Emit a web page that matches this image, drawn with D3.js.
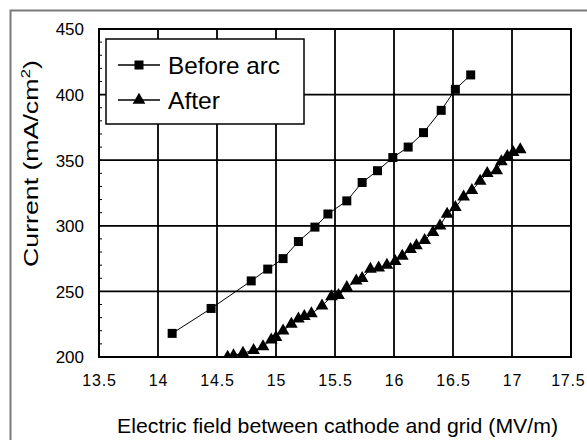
<!DOCTYPE html>
<html>
<head>
<meta charset="utf-8">
<script src="https://cdn.jsdelivr.net/npm/d3@7"></script>
<style>
  html, body { margin: 0; padding: 0; background: #fff; }
  svg { display: block; }
  text { font-family: "Liberation Sans", Arial, sans-serif; fill: #000; }
</style>
</head>
<body>
<svg id="chart" width="587" height="440"></svg>
<script>
// ── Data ──────────────────────────────────────────────────────────────────
const beforeX = [14.12, 14.45, 14.79, 14.93, 15.06, 15.19, 15.33, 15.44, 15.60,
                 15.73, 15.86, 15.99, 16.12, 16.25, 16.40, 16.52, 16.65];
const beforeY = [218, 237, 258, 267, 275, 288, 299, 309, 319,
                 333, 342, 352, 360, 371, 388, 404, 415];

const afterX = [14.50, 14.59, 14.64, 14.72, 14.81, 14.89, 14.96, 15.00, 15.06, 15.13,
                15.19, 15.24, 15.30, 15.39, 15.47, 15.53, 15.60, 15.68, 15.73, 15.80,
                15.87, 15.94, 16.01, 16.07, 16.14, 16.19, 16.26, 16.33, 16.39, 16.45,
                16.52, 16.59, 16.66, 16.73, 16.79, 16.87, 16.91, 16.96, 17.01, 17.07];
const afterY = [196, 200, 201, 203, 205, 208, 213, 215, 220, 225,
                229, 231, 233, 239, 246, 247, 253, 258, 260, 267,
                268, 270, 273, 277, 282, 285, 289, 295, 300, 309,
                314, 322, 327, 334, 340, 342, 349, 353, 356, 358];

const xTicks = [13.5, 14, 14.5, 15, 15.5, 16, 16.5, 17, 17.5];
const yTicks = [200, 250, 300, 350, 400, 450];
const yMinor = d3.range(200, 451, 10);

const legendNames = ['Before arc', 'After'];

// ── Layout ────────────────────────────────────────────────────────────────
const plot = { left: 99, top: 29, right: 571, bottom: 357 };

const svg = d3.select('#chart');

// outer frame (only top/left edges show inside the window)
svg.append('rect')
  .attr('x', 10.5).attr('y', 10.5)
  .attr('width', 700).attr('height', 600)
  .attr('fill', 'none').attr('stroke', '#7a7a7a').attr('stroke-width', 2);

const x = d3.scaleLinear().domain([13.5, 17.5]).range([plot.left, plot.right]);
const y = d3.scaleLinear().domain([200, 450]).range([plot.bottom, plot.top]);

svg.append('clipPath').attr('id', 'clip')
  .append('rect')
  .attr('x', plot.left).attr('y', plot.top)
  .attr('width', plot.right - plot.left).attr('height', plot.bottom - plot.top);

// ── Grid ──────────────────────────────────────────────────────────────────
const grid = svg.append('g').attr('stroke', '#000').attr('stroke-width', 1.8);
grid.selectAll('.vgrid').data(xTicks.slice(1, -1)).join('line')
  .attr('x1', d => x(d)).attr('x2', d => x(d))
  .attr('y1', plot.top).attr('y2', plot.bottom);
grid.selectAll('.hgrid').data(yTicks.slice(1, -1)).join('line')
  .attr('y1', d => y(d)).attr('y2', d => y(d))
  .attr('x1', plot.left).attr('x2', plot.right);

// minor ticks on the left axis (pointing inward)
svg.append('g').attr('stroke', '#000').attr('stroke-width', 1)
  .selectAll('line').data(yMinor).join('line')
  .attr('x1', plot.left).attr('x2', plot.left + 3)
  .attr('y1', d => y(d)).attr('y2', d => y(d));

// plot border
svg.append('rect')
  .attr('x', plot.left).attr('y', plot.top)
  .attr('width', plot.right - plot.left).attr('height', plot.bottom - plot.top)
  .attr('fill', 'none').attr('stroke', '#000').attr('stroke-width', 2);

// ── Axes labels ───────────────────────────────────────────────────────────
const xAxis = d3.axisBottom(x).tickValues(xTicks).tickSize(0).tickPadding(0)
  .tickFormat(d3.format('~g'));
const gx = svg.append('g').attr('transform', `translate(0,${plot.bottom + 23})`).call(xAxis);
gx.select('.domain').remove();
gx.selectAll('text')
  .attr('dy', '0.35em')
  .style('font-size', '16px')
  .style('letter-spacing', '0.8px')
  .style('font-family', '"Liberation Sans", Arial, sans-serif');
// last label sits against the window edge
gx.selectAll('text').filter(d => d === xTicks[xTicks.length - 1])
  .attr('text-anchor', 'end').attr('x', 585 - plot.right);

const yAxis = d3.axisLeft(y).tickValues(yTicks).tickSize(0).tickPadding(0);
const gy = svg.append('g').attr('transform', `translate(${plot.left - 15},0)`).call(yAxis);
gy.select('.domain').remove();
gy.selectAll('text')
  .attr('dy', '0.35em')
  .style('font-size', '17px')
  .style('font-family', '"Liberation Sans", Arial, sans-serif');

svg.append('text')
  .attr('x', 117).attr('y', 433)
  .attr('textLength', 441).attr('lengthAdjust', 'spacingAndGlyphs')
  .style('font-size', '21px')
  .text('Electric field between cathode and grid (MV/m)');

const yTitle = svg.append('text')
  .attr('transform', 'translate(38,267) rotate(-90)')
  .attr('textLength', 207).attr('lengthAdjust', 'spacingAndGlyphs')
  .style('font-size', '20px');
yTitle.append('tspan').text('Current (mA/cm');
yTitle.append('tspan').attr('dy', -8).style('font-size', '13px').text('2');
yTitle.append('tspan').attr('dy', 8).text(')');

// ── Series ────────────────────────────────────────────────────────────────
const before = beforeX.map((v, i) => [v, beforeY[i]]);
const after  = afterX.map((v, i) => [v, afterY[i]]);

const line = d3.line().x(d => x(d[0])).y(d => y(d[1]));
const square = d3.symbol().type(d3.symbolSquare).size(81);
const triangle = d3.symbol().type(d3.symbolTriangle).size(70);

const series = svg.append('g').attr('clip-path', 'url(#clip)');

series.append('path').datum(before)
  .attr('d', line).attr('fill', 'none').attr('stroke', '#000').attr('stroke-width', 1);
series.append('path').datum(after)
  .attr('d', line).attr('fill', 'none').attr('stroke', '#000').attr('stroke-width', 1);

series.selectAll('.sq').data(before).join('path')
  .attr('class', 'sq')
  .attr('transform', d => `translate(${x(d[0])},${y(d[1])})`)
  .attr('d', square).attr('fill', '#000');

series.selectAll('.tri').data(after).join('path')
  .attr('class', 'tri')
  .attr('transform', d => `translate(${x(d[0])},${y(d[1])})`)
  .attr('d', triangle).attr('fill', '#000');

// ── Legend ────────────────────────────────────────────────────────────────
const legend = svg.append('g');
legend.append('rect')
  .attr('x', 106).attr('y', 39).attr('width', 198).attr('height', 85)
  .attr('fill', '#fff').attr('stroke', '#000').attr('stroke-width', 1.5);

const rows = legend.selectAll('.row').data(legendNames).join('g')
  .attr('transform', (d, i) => `translate(0,${65 + i * 35})`);
rows.append('line')
  .attr('x1', 118).attr('x2', 160)
  .attr('stroke', '#000').attr('stroke-width', 1.5);
rows.append('path')
  .attr('transform', 'translate(139,0)')
  .attr('d', (d, i) => i === 0 ? square() : triangle())
  .attr('fill', '#000');
rows.append('text')
  .attr('x', 168).attr('dy', '0.36em')
  .attr('textLength', (d, i) => i === 0 ? 112 : 52)
  .attr('lengthAdjust', 'spacingAndGlyphs')
  .style('font-size', '24px')
  .text(d => d);
</script>
</body>
</html>
